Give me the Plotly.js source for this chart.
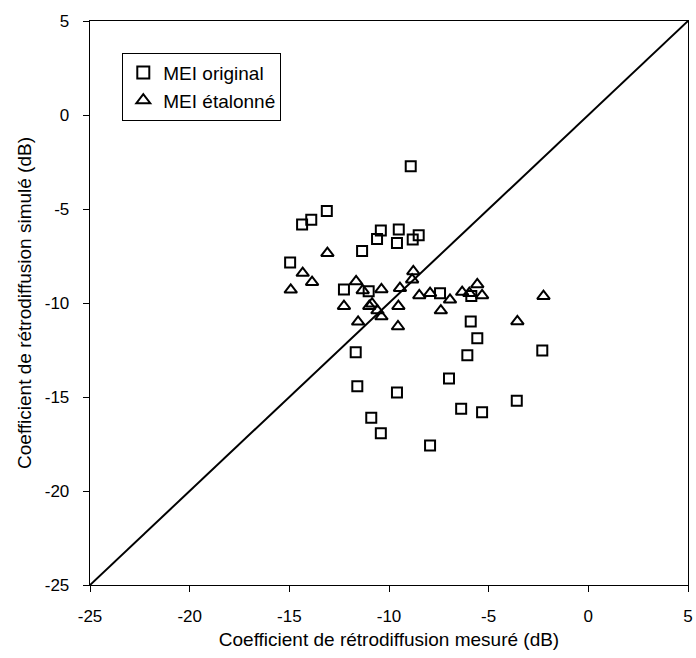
<!DOCTYPE html>
<html>
<head>
<meta charset="utf-8">
<script src="https://cdn.plot.ly/plotly-3.0.1.min.js"></script>
<style>html,body{margin:0;padding:0;background:#fff;}#chart{width:696px;height:658px;}</style>
</head>
<body>
<div id="chart"></div>
<script>
// MEI original (squares)
const origX = [-8.91, -13.12, -13.9, -14.36, -10.41, -9.51, -10.6, -9.6, -8.51, -8.81,
  -11.35, -14.96, -12.26, -11.02, -7.44, -5.87,
  -5.9, -5.57, -11.67, -2.31, -6.07, -6.99, -11.59, -9.6, -3.59, -6.38, -5.33, -10.89, -10.41, -7.94];
const origY = [-2.73, -5.11, -5.57, -5.82, -6.14, -6.09, -6.6, -6.81, -6.39, -6.62,
  -7.24, -7.84, -9.28, -9.37, -9.48, -9.63,
  -10.98, -11.87, -12.62, -12.53, -12.78, -14.02, -14.43, -14.76, -15.2, -15.63, -15.81, -16.11, -16.93, -17.58];
// MEI étalonné (triangles)
const calX = [-13.09, -14.33, -13.86, -14.93, -8.78, -8.84, -11.65, -11.32, -10.38, -9.45,
  -8.48, -7.94, -6.94, -6.33, -5.97, -5.57, -5.33, -12.26, -10.99, -9.53,
  -7.4, -10.85, -10.58, -10.38, -11.55, -9.55, -2.25, -3.56];
const calY = [-7.35, -8.41, -8.89, -9.3, -8.32, -8.76, -8.85, -9.33, -9.28, -9.21,
  -9.6, -9.48, -9.83, -9.42, -9.48, -9.01, -9.6, -10.17, -10.17, -10.17,
  -10.4, -10.04, -10.4, -10.72, -11.0, -11.25, -9.64, -10.98];
// 1:1 line
const lineX = [-25, 5];
const lineY = [-25, 5];
const xTicks = [-25, -20, -15, -10, -5, 0, 5];
const yTicks = [-25, -20, -15, -10, -5, 0, 5];

const font = 'Liberation Sans, Arial, sans-serif';
const traces = [
  {x: lineX, y: lineY, mode: 'lines', line: {color: '#000', width: 2}, showlegend: false, hoverinfo: 'skip'},
  {x: origX, y: origY, mode: 'markers', name: 'MEI original',
   marker: {symbol: 'square-open', size: 10, color: '#000', line: {width: 2, color: '#000'}}},
  {x: calX, y: calY, mode: 'markers', name: 'MEI étalonné',
   marker: {symbol: 'triangle-up-open', size: 11, color: '#000', line: {width: 2, color: '#000'}}}
];
const layout = {
  width: 696, height: 658,
  margin: {l: 90, r: 8, t: 21, b: 73},
  paper_bgcolor: '#fff', plot_bgcolor: '#fff',
  font: {family: font, color: '#000', size: 17},
  xaxis: {range: [-25, 5], tickvals: xTicks, ticktext: xTicks.map(String), showgrid: false, zeroline: false,
    showline: true, linecolor: '#000', linewidth: 1.3, mirror: true, ticks: 'outside', ticklen: 6, tickcolor: '#000',
    ticklabelstandoff: 9,
    tickfont: {size: 17, family: font}, title: {text: 'Coefficient de rétrodiffusion mesuré (dB)', font: {size: 19, family: font}, standoff: 8}},
  yaxis: {range: [-25, 5], tickvals: yTicks, ticktext: yTicks.map(String), showgrid: false, zeroline: false,
    showline: true, linecolor: '#000', linewidth: 1.3, mirror: true, ticks: 'outside', ticklen: 6, tickcolor: '#000',
    ticklabelstandoff: 10,
    tickfont: {size: 17, family: font}, title: {text: 'Coefficient de rétrodiffusion simulé (dB)', font: {size: 19, family: font}, standoff: 8}},
  legend: {x: 0.054, y: 0.944, xanchor: 'left', yanchor: 'top', bgcolor: '#fff', bordercolor: '#000', borderwidth: 1,
    font: {size: 19, family: font}, tracegroupgap: 0, itemsizing: 'constant', itemwidth: 30},
  showlegend: true
};
Plotly.newPlot('chart', traces, layout, {staticPlot: true});
</script>
</body>
</html>
